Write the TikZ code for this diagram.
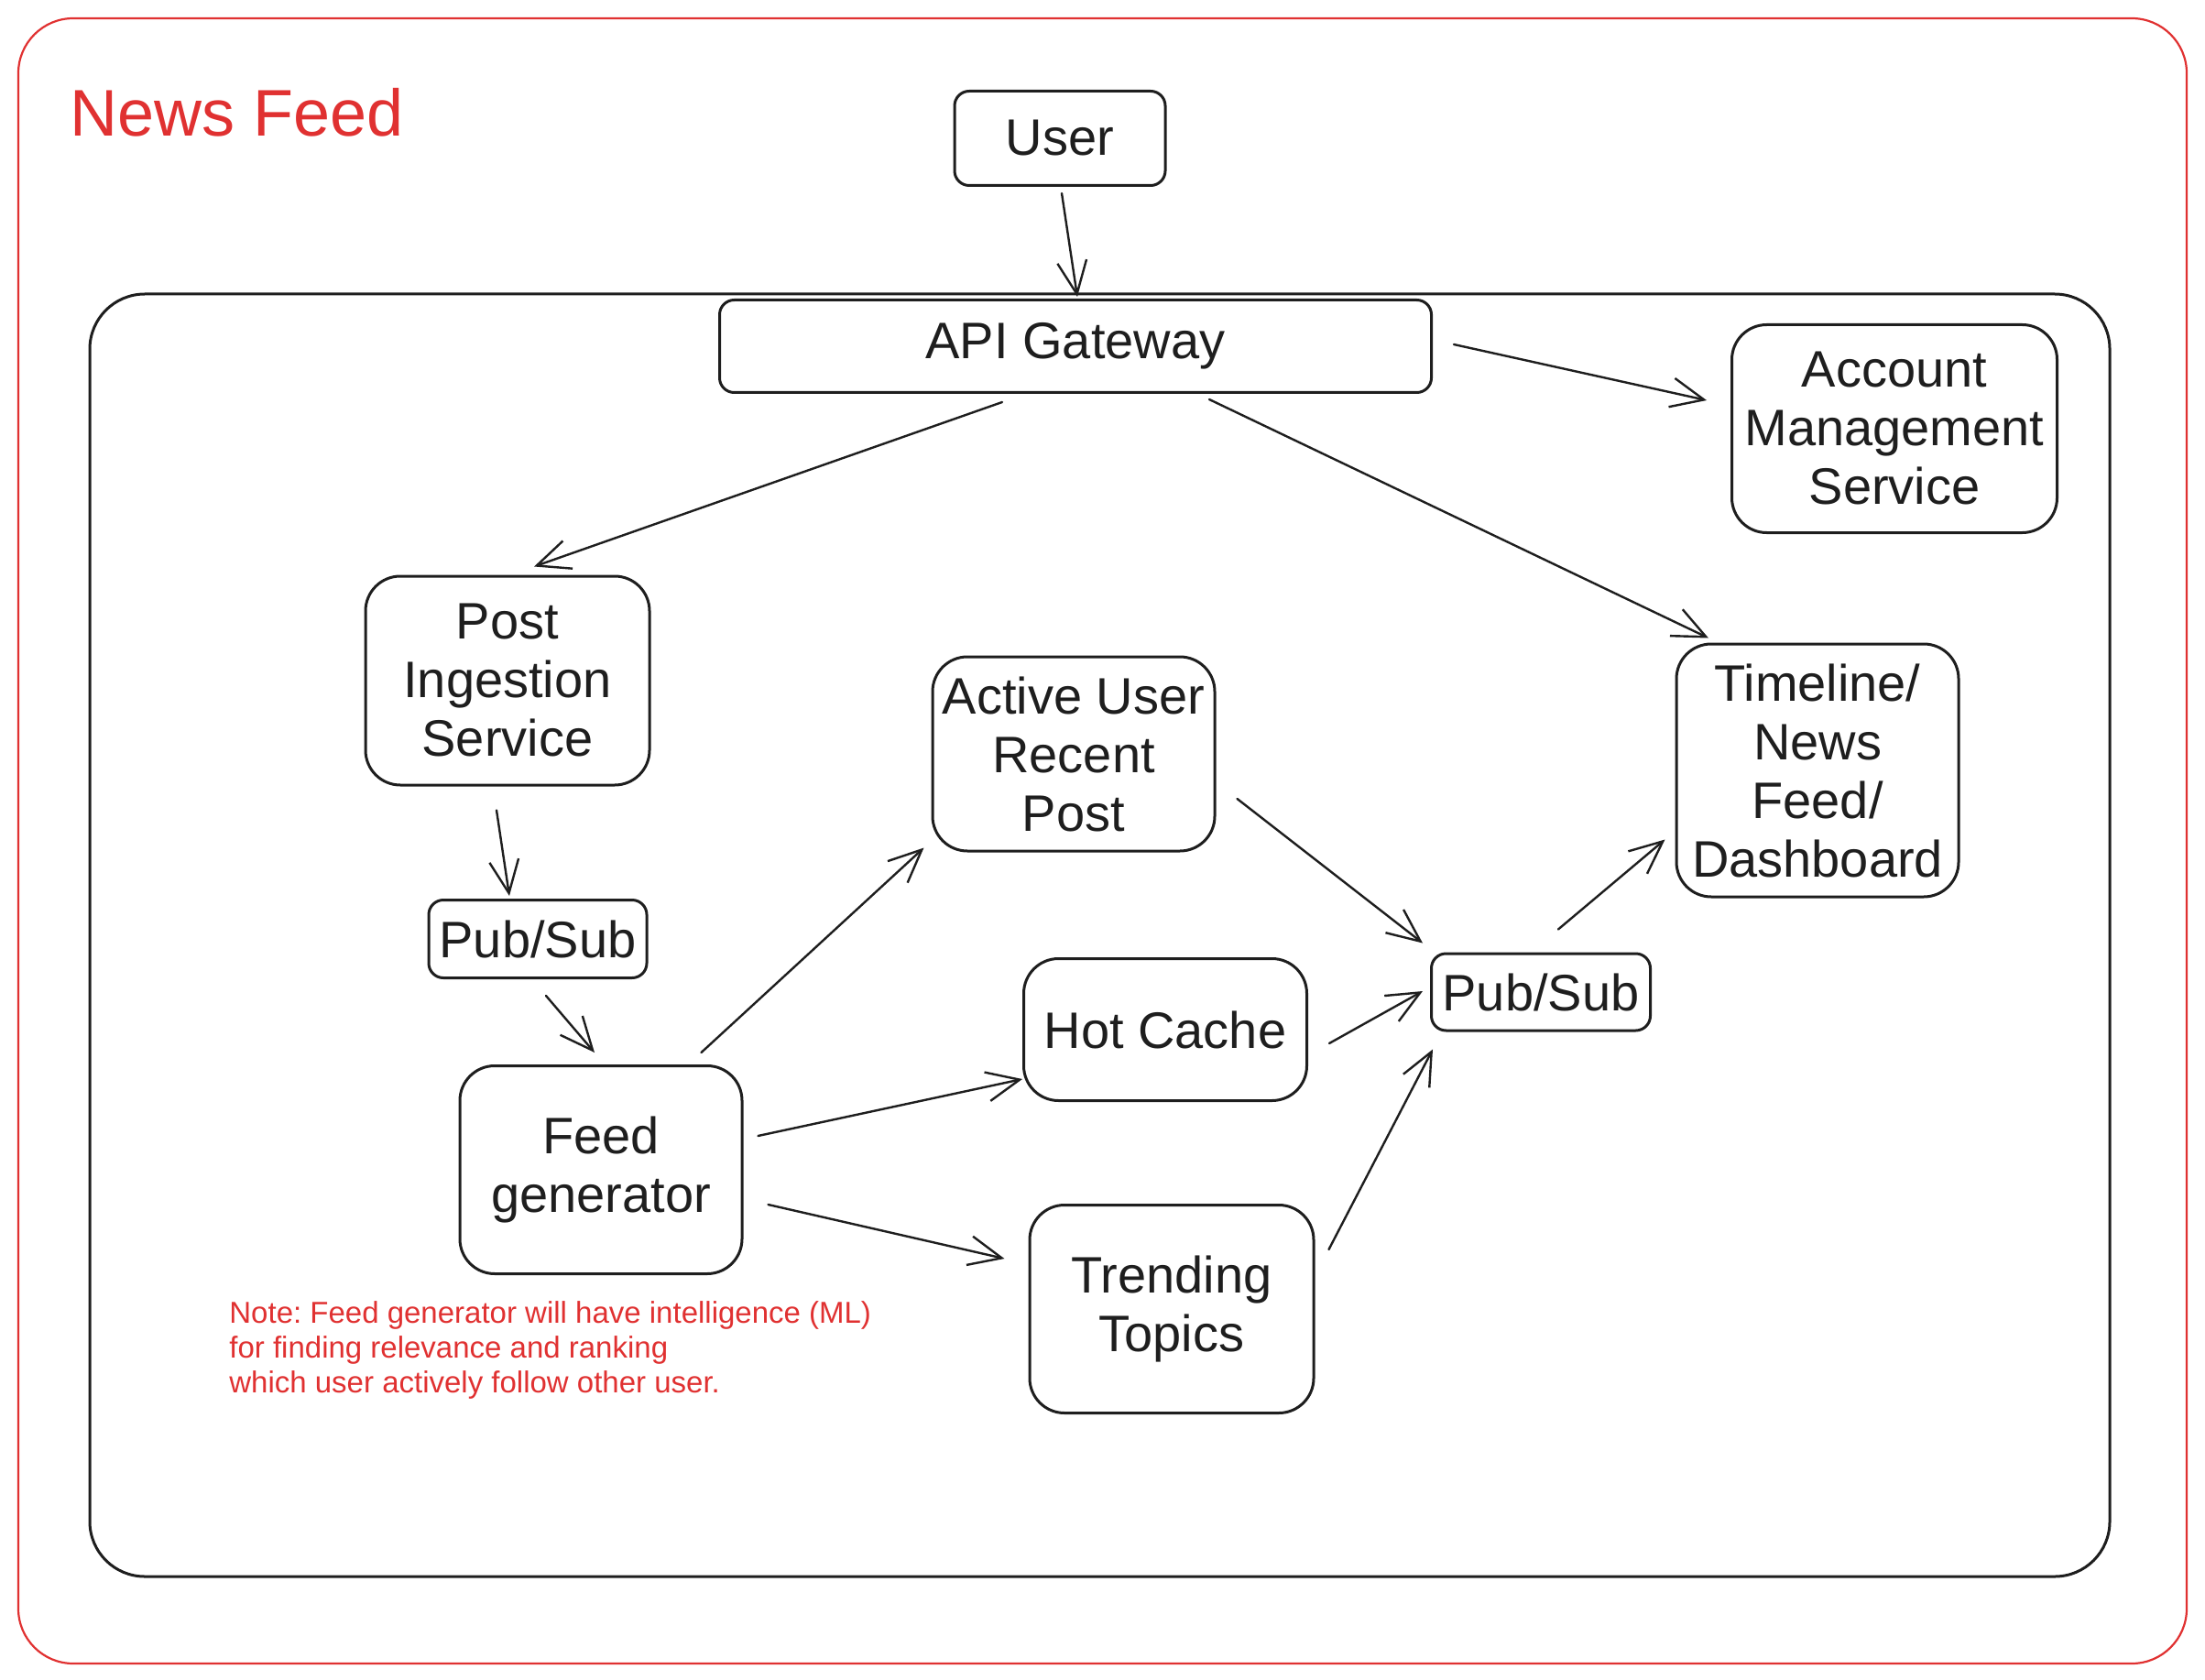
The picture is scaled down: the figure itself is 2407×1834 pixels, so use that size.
\documentclass[tikz,border=0pt]{standalone}
\usepackage{fontspec}
\setmainfont{Liberation Sans}
\usetikzlibrary{arrows.meta,calc}
\definecolor{sketchred}{RGB}{224,49,49}
\definecolor{ink}{RGB}{30,30,30}
\tikzset{
  block/.style={draw=ink, line width=1.5pt, rounded corners=19pt, align=center, inner sep=0pt,
    font=\fontsize{28}{32}\selectfont, text=ink},
  slim/.style={block, rounded corners=8pt},
  flow/.style={draw=ink, line width=1.2pt, line cap=round, -{Straight Barb[length=18pt,width=16pt]}}
}
\begin{document}
\frenchspacing
\begin{tikzpicture}[x=0.5pt,y=-0.5pt]
\useasboundingbox (0,0) rectangle (2407,1834);

%Shape: Frame
\draw [sketchred, line width=1.1pt, rounded corners=30pt] (20,20) rectangle (2387,1816);
%Shape: Container
\draw [ink, line width=1.5pt, rounded corners=30pt] (98,321) rectangle (2303,1721);

% Text Node
\node [anchor=west, text=sketchred, font=\fontsize{36}{40}\selectfont] (title) at (69,123) {News Feed};

%Blocks
\node [slim, minimum width=115pt, minimum height=51.5pt] (user) at (1157,151) {User};
\node [slim, minimum width=388.5pt, minimum height=50.5pt] (api) at (1174,378) {API Gateway};
\node [block, minimum width=177.5pt, minimum height=113.5pt] (acct) at (2068,468) {Account\\Management\\Service};
\node [block, minimum width=155pt, minimum height=114pt] (post) at (554,743) {Post\\Ingestion\\Service};
\node [block, minimum width=154pt, minimum height=106pt] (active) at (1172,823) {Active User\\Recent\\Post};
\node [block, minimum width=154pt, minimum height=138pt] (timeline) at (1984,841) {Timeline/\\News\\Feed/\\Dashboard};
\node [slim, minimum width=119pt, minimum height=42.5pt] (pubin) at (587,1025) {Pub/Sub};
\node [block, minimum width=154.5pt, minimum height=77.5pt] (hot) at (1272,1124) {Hot Cache};
\node [slim, minimum width=119.5pt, minimum height=42pt] (pubout) at (1682,1083) {Pub/Sub};
\node [block, minimum width=154pt, minimum height=113.5pt] (feed) at (656,1277) {Feed\\generator};
\node [block, minimum width=155pt, minimum height=113.5pt] (trend) at (1279,1429) {Trending\\Topics};

% Text Node
\node [anchor=west, align=left, text=sketchred, inner sep=0pt, font=\fontsize{16.5}{19.2}\selectfont] (note) at (250,1474)
  {Note: Feed generator will have intelligence (ML)\\for finding relevance and ranking\\which user actively follow other user.};

%Connectors
\draw [flow] ($(user.south)+(2,7)$) -- ($(api.north)+(2,-2)$);
\draw [flow] ($(api.east)+(23,-2)$) -- ($(acct.west)+(-26,-31)$);
\draw [flow] ($(api.south)+(-80,9)$) -- ($(post.north)+(29,-9)$);
\draw [flow] ($(api.south)+(146,6)$) -- ($(timeline.north)+(-119,-5)$);
\draw [flow] ($(post.south)+(-12,26)$) -- ($(pubin.north)+(-31,-3)$);
\draw [flow] ($(pubin.south)+(9,18)$) -- ($(feed.north)+(-7,-13)$);
\draw [flow] ($(feed.north east)+(-46,-13)$) -- ($(active.south west)+(-8,-5)$);
\draw [flow] ($(feed.east)+(16,-37)$) -- ($(hot.south west)+(0,-25)$);
\draw [flow] ($(feed.east)+(27,38)$) -- ($(trend.west)+(-26,-55)$);
\draw [flow] ($(active.east)+(23,49)$) -- ($(pubout.north west)+(-8,-10)$);
\draw [flow] ($(hot.east)+(23,15)$) -- ($(pubout.west)+(-8,-1)$);
\draw [flow] ($(trend.north east)+(15,50)$) -- ($(pubout.south west)+(3,19)$);
\draw [flow] ($(pubout.north)+(19,-25)$) -- ($(timeline.south west)+(-11,-64)$);

\end{tikzpicture}
\end{document}
